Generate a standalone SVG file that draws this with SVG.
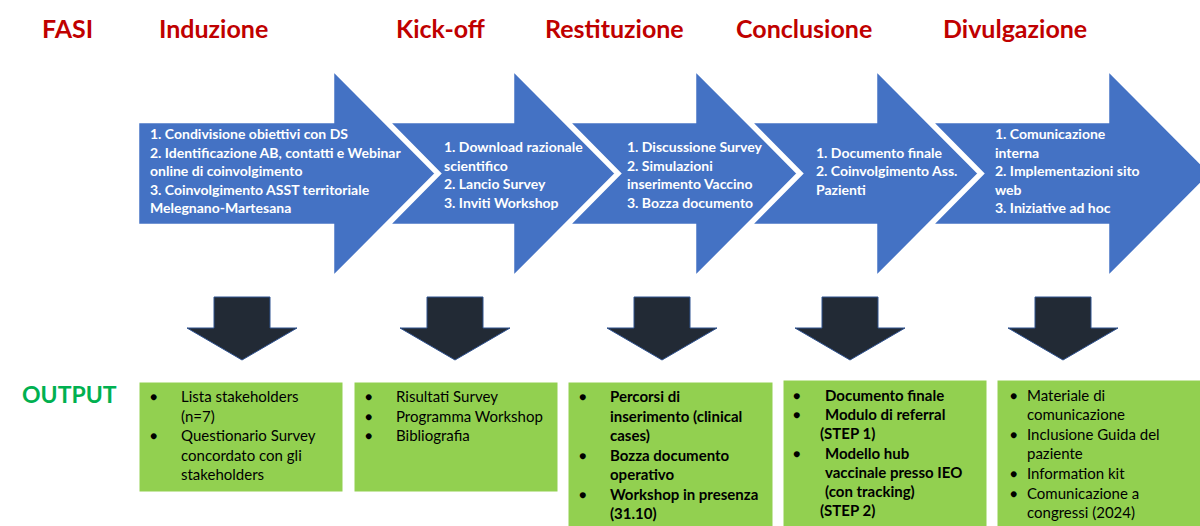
<svg xmlns="http://www.w3.org/2000/svg" width="1200" height="526" viewBox="0 0 1200 526">
  <style>
    .phase { fill: #4472C4; stroke: #FFFFFF; stroke-width: 2.5; stroke-linejoin: miter; }
    .down { fill: #222A35; stroke: #2F528F; stroke-width: 1; }
    .out { fill: #92D050; stroke: #FFFFFF; stroke-width: 1; }
    .title { font-family: Lato, "Liberation Sans", sans-serif; font-weight: bold; font-size: 25px; fill: #C00000; }
    .label { font-family: Lato, "Liberation Sans", sans-serif; font-weight: bold; font-size: 23px; fill: #00B050; }
    .step { font-family: Lato, "Liberation Sans", sans-serif; font-weight: bold; font-size: 14px; fill: #FFFFFF; }
    .item { font-family: Lato, "Liberation Sans", sans-serif; font-size: 15px; fill: #000000; }
    .item.strong { font-weight: bold; }
    .bullet { font-size: 12px; }
  </style>

  <rect width="1200" height="526" fill="#FFFFFF"/>

  <!-- Row headings -->
  <g id="headings">
    <text class="title" x="42" y="38">FASI</text>
    <text class="title" x="159" y="38">Induzione</text>
    <text class="title" x="396" y="38">Kick-off</text>
    <text class="title" x="545" y="38">Restituzione</text>
    <text class="title" x="736" y="38">Conclusione</text>
    <text class="title" x="943" y="38">Divulgazione</text>
    <text class="label" x="22" y="403">OUTPUT</text>
  </g>

  <!-- Phase arrows, drawn left to right so each notch overlaps the previous tip -->
  <g id="phase-induzione">
    <polygon class="phase" points="138,122 333,122 333,70 436,173.5 333,277 333,225 138,225"/>
    <text class="step">
      <tspan x="150" y="139">1. Condivisione obiettivi con DS</tspan>
      <tspan x="150" y="157.5">2. Identificazione AB, contatti e Webinar</tspan>
      <tspan x="150" y="176">online di coinvolgimento</tspan>
      <tspan x="150" y="194.5">3. Coinvolgimento ASST territoriale</tspan>
      <tspan x="150" y="213">Melegnano-Martesana</tspan>
    </text>
  </g>
  <g id="phase-kickoff">
    <polygon class="phase" points="389,122 513,122 513,70 616,173.5 513,277 513,225 389,225 440,173.5"/>
    <text class="step">
      <tspan x="444" y="152">1. Download razionale</tspan>
      <tspan x="444" y="170.5">scientifico</tspan>
      <tspan x="444" y="189">2. Lancio Survey</tspan>
      <tspan x="444" y="207.5">3. Inviti Workshop</tspan>
    </text>
  </g>
  <g id="phase-restituzione">
    <polygon class="phase" points="569,122 695,122 695,70 798,173.5 695,277 695,225 569,225 620,173.5"/>
    <text class="step">
      <tspan x="627" y="152">1. Discussione Survey</tspan>
      <tspan x="627" y="170.5">2. Simulazioni</tspan>
      <tspan x="627" y="189">inserimento Vaccino</tspan>
      <tspan x="627" y="207.5">3. Bozza documento</tspan>
    </text>
  </g>
  <g id="phase-conclusione">
    <polygon class="phase" points="751,122 876,122 876,70 979,173.5 876,277 876,225 751,225 802,173.5"/>
    <text class="step">
      <tspan x="816" y="157.5">1. Documento finale</tspan>
      <tspan x="816" y="176">2. Coinvolgimento Ass.</tspan>
      <tspan x="816" y="194.5">Pazienti</tspan>
    </text>
  </g>
  <g id="phase-divulgazione">
    <polygon class="phase" points="932,122 1108,122 1108,70 1211,173.5 1108,277 1108,225 932,225 983,173.5"/>
    <text class="step">
      <tspan x="995" y="139">1. Comunicazione</tspan>
      <tspan x="995" y="157.5">interna</tspan>
      <tspan x="995" y="176">2. Implementazioni sito</tspan>
      <tspan x="995" y="194.5">web</tspan>
      <tspan x="995" y="213">3. Iniziative ad hoc</tspan>
    </text>
  </g>

  <!-- Down arrows from each phase to its output -->
  <g id="connectors">
    <defs>
      <polygon id="down-arrow" class="down" points="-28,0 28,0 28,31 55,31 0,63 -55,31 -28,31"/>
    </defs>
    <use href="#down-arrow" x="242" y="297"/>
    <use href="#down-arrow" x="455" y="297"/>
    <use href="#down-arrow" x="662" y="297"/>
    <use href="#down-arrow" x="850" y="297"/>
    <use href="#down-arrow" x="1063" y="297"/>
  </g>

  <!-- Output boxes -->
  <g id="output-induzione">
    <rect class="out" x="139" y="382" width="204" height="110"/>
    <text class="item">
      <tspan class="bullet" x="150" y="401">●</tspan><tspan x="181" y="402">Lista stakeholders</tspan>
      <tspan x="181" y="421.5">(n=7)</tspan>
      <tspan class="bullet" x="150" y="440">●</tspan><tspan x="181" y="441">Questionario Survey</tspan>
      <tspan x="181" y="460.5">concordato con gli</tspan>
      <tspan x="181" y="480">stakeholders</tspan>
    </text>
  </g>
  <g id="output-kickoff">
    <rect class="out" x="354" y="382" width="204" height="110"/>
    <text class="item">
      <tspan class="bullet" x="365" y="401">●</tspan><tspan x="396" y="402">Risultati Survey</tspan>
      <tspan class="bullet" x="365" y="420.5">●</tspan><tspan x="396" y="421.5">Programma Workshop</tspan>
      <tspan class="bullet" x="365" y="440">●</tspan><tspan x="396" y="441">Bibliografia</tspan>
    </text>
  </g>
  <g id="output-restituzione">
    <rect class="out" x="568" y="382" width="205" height="150"/>
    <text class="item strong">
      <tspan class="bullet" x="579" y="401">●</tspan><tspan x="610" y="402">Percorsi di</tspan>
      <tspan x="610" y="421.5">inserimento (clinical</tspan>
      <tspan x="610" y="441">cases)</tspan>
      <tspan class="bullet" x="579" y="459.5">●</tspan><tspan x="610" y="460.5">Bozza documento</tspan>
      <tspan x="610" y="480">operativo</tspan>
      <tspan class="bullet" x="579" y="498.5">●</tspan><tspan x="610" y="499.5">Workshop in presenza</tspan>
      <tspan x="610" y="519">(31.10)</tspan>
    </text>
  </g>
  <g id="output-conclusione">
    <rect class="out" x="783" y="380" width="204" height="152"/>
    <text class="item strong">
      <tspan class="bullet" x="793" y="400">●</tspan><tspan x="825" y="401">Documento finale</tspan>
      <tspan class="bullet" x="793" y="419">●</tspan><tspan x="825" y="420">Modulo di referral</tspan>
      <tspan x="820" y="439">(STEP 1)</tspan>
      <tspan class="bullet" x="793" y="457.5">●</tspan><tspan x="825" y="458.5">Modello hub</tspan>
      <tspan x="825" y="478">vaccinale presso IEO</tspan>
      <tspan x="825" y="497">(con tracking)</tspan>
      <tspan x="820" y="516">(STEP 2)</tspan>
    </text>
  </g>
  <g id="output-divulgazione">
    <rect class="out" x="997" y="380" width="210" height="152"/>
    <text class="item">
      <tspan class="bullet" x="1010" y="400">●</tspan><tspan x="1027" y="401">Materiale di</tspan>
      <tspan x="1027" y="420">comunicazione</tspan>
      <tspan class="bullet" x="1010" y="438.5">●</tspan><tspan x="1027" y="439.5">Inclusione Guida del</tspan>
      <tspan x="1027" y="459">paziente</tspan>
      <tspan class="bullet" x="1010" y="478">●</tspan><tspan x="1027" y="479">Information kit</tspan>
      <tspan class="bullet" x="1010" y="497.5">●</tspan><tspan x="1027" y="498.5">Comunicazione a</tspan>
      <tspan x="1027" y="518">congressi (2024)</tspan>
    </text>
  </g>
</svg>
